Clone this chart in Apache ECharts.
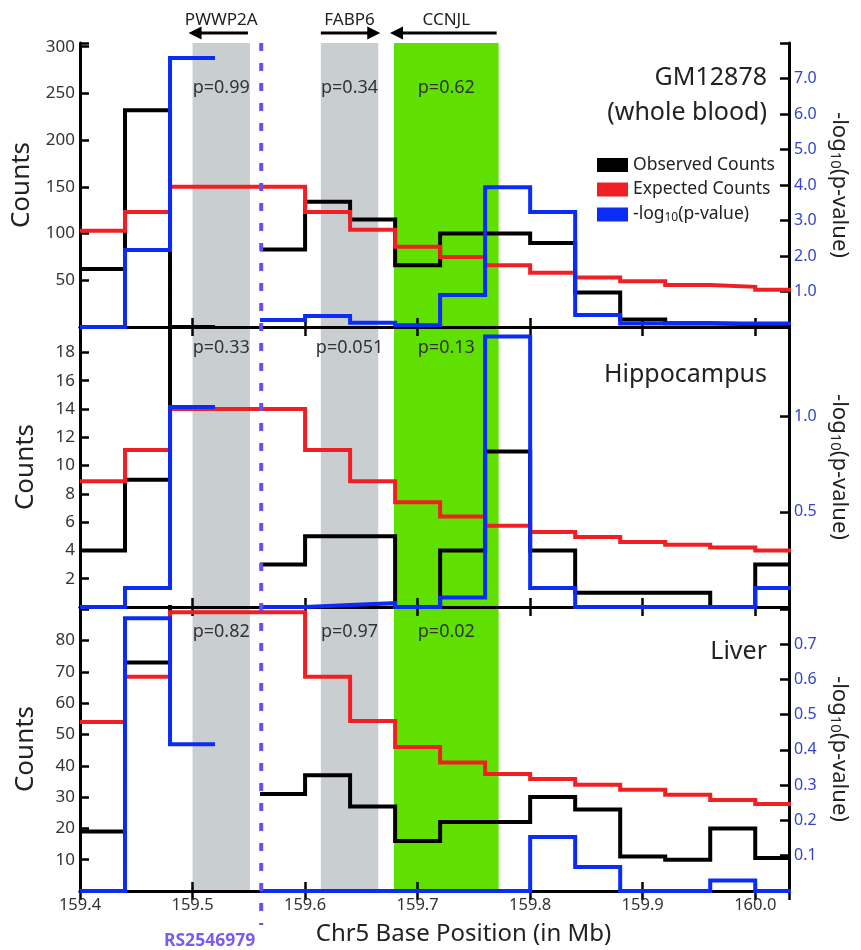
<!DOCTYPE html>
<html><head><meta charset="utf-8">
<script src="https://cdn.jsdelivr.net/npm/echarts@6/dist/echarts.min.js"></script>
<style>html,body{margin:0;padding:0;background:#fff;}#c{width:861px;height:950px;}</style>
</head><body><div id="c"></div>
<script>
// ---------- DATA ----------
const binEdges = [159.40,159.44,159.48,159.52,159.56,159.60,159.64,159.68,159.72,159.76,159.80,159.84,159.88,159.92,159.96,160.00,160.04];

const observedGM    = [62, 232, 0, null, 83, 134, 115, 66, 100, 100, 90, 37, 8, 4, 3, 2];
const expectedGM    = [103, 123, 150, 150, 150, 123, 104, 86, 75, 66, 58, 53, 49, 45, 43, 40];
const pvalueGM      = [0, 2.17, 7.58, null, 0.2, 0.31, 0.12, 0.05, 0.9, 3.94, 3.24, 0.34, 0.1, 0.1, 0.1, 0.1];

const observedHippo = [4, 9, 25, null, 3, 5, 5, 0, 4, 11, 4, 1, 1, 1, 0, 3];
const expectedHippo = [8.9, 11.1, 14.0, 14.0, 14.0, 11.1, 8.9, 7.4, 6.4, 5.75, 5.3, 4.95, 4.6, 4.4, 4.2, 4.0];
const pvalueHippo   = [0, 0.1, 1.05, null, 0, 0.01, 0.02, 0, 0.05, 1.42, 0.1, 0, 0, 0, 0, 0.1];

const observedLiver = [19, 73, 95, null, 31, 37, 27, 16, 22, 22, 30, 26, 11, 10, 20, 10.5];
const expectedLiver = [54, 68.4, 89, 89, 89, 68.4, 54.3, 46, 41, 37.4, 35.8, 33.9, 32.3, 30.7, 29.1, 27.8];
const pvalueLiver   = [0, 0.773, 0.416, null, 0, 0, 0, 0, 0, 0, 0.153, 0.068, 0, 0, 0.03, 0];

const countTickLabels = [[50, 100, 150, 200, 250, 300], [2, 4, 6, 8, 10, 12, 14, 16, 18], [10, 20, 30, 40, 50, 60, 70, 80]];
const pvalTickLabels  = [[1, 2, 3, 4, 5, 6, 7], [0.5, 1.0], [0.1, 0.2, 0.3, 0.4, 0.5, 0.6, 0.7]];
const xTickLabels     = [159.4, 159.5, 159.6, 159.7, 159.8, 159.9, 160.0];

const panelTitles = [['GM12878', '(whole blood)'], ['Hippocampus'], ['Liver']];
const geneNames  = ['PWWP2A', 'FABP6', 'CCNJL'];
const geneStart  = [159.500, 159.614, 159.679];
const geneEnd    = [159.551, 159.665, 159.772];
const geneStrand = [-1, 1, -1];
const genePvalsGM    = ['p=0.99', 'p=0.34', 'p=0.62'];
const genePvalsHippo = ['p=0.33', 'p=0.051', 'p=0.13'];
const genePvalsLiver = ['p=0.82', 'p=0.97', 'p=0.02'];
const snpPos  = 159.561;
const snpName = 'RS2546979';

const xMin = 159.4, xMax = 160.03, xInterval = 0.1;
const countMax = [304, 19.8, 90.7];
const countInterval = [50, 2, 10];
const pvalMax = [8.0, 1.47, 0.805];
const pvalInterval = [1, 0.5, 0.1];

// ---------- STYLE / LAYOUT ----------
const FONT = '"Noto Sans", "Open Sans", sans-serif';
const C_OBS = '#000000', C_EXP = '#ee2024', C_P = '#0b2cf5';
const geneColors = ['#c9cfd1', '#c9cfd1', '#5fe000'];
const gridLeft = 80, gridWidth = 709;
const gridTops = [43, 327, 607], gridHeights = [284, 280, 284];
const titleOffsets = [[35, 70], [48], [45]];
const pLabelDistance = [36, 12, 16];

const panels = [
  {obs: observedGM, exp: expectedGM, pv: pvalueGM, plab: genePvalsGM},
  {obs: observedHippo, exp: expectedHippo, pv: pvalueHippo, plab: genePvalsHippo},
  {obs: observedLiver, exp: expectedLiver, pv: pvalueLiver, plab: genePvalsLiver}
];

function stepPoints(vals) {
  const pts = [];
  for (let i = 0; i < vals.length; i++) {
    if (vals[i] == null) { pts.push([binEdges[i], '-']); continue; }
    pts.push([binEdges[i], vals[i]]);
    pts.push([binEdges[i + 1], vals[i]]);
  }
  return pts;
}
const inList = (v, list) => list.some(t => Math.abs(t - v) < 1e-6);

const grid = [], xAxis = [], yAxis = [], series = [];
const axisLine = {show: true, lineStyle: {color: '#000', width: 3}};
const axisTick = {show: true, inside: true, length: 9, lineStyle: {color: '#000', width: 2.5}};

for (let p = 0; p < 3; p++) {
  grid.push({left: gridLeft, top: gridTops[p], width: gridWidth, height: gridHeights[p], containLabel: false});
}
for (let p = 0; p < 3; p++) {
  xAxis.push({
    type: 'value', gridIndex: p, position: 'bottom', min: xMin, max: xMax, interval: xInterval, z: 3,
    axisLine, axisTick, splitLine: {show: false},
    axisLabel: {show: p === 2, margin: 6, color: '#333', fontSize: 16.5, fontFamily: FONT,
      formatter: v => inList(v, xTickLabels) ? v.toFixed(1) : ''},
    name: p === 2 ? 'Chr5 Base Position (in Mb)' : '', nameLocation: 'middle', nameGap: 31,
    nameTextStyle: {fontSize: 24, color: '#222', fontFamily: FONT, padding: [0, 0, 0, 58]}
  });
}
for (let p = 0; p < 3; p++) {
  xAxis.push({
    type: 'value', gridIndex: p, position: 'top', min: xMin, max: xMax, interval: xInterval, z: 3,
    axisLine, axisTick, splitLine: {show: false}, axisLabel: {show: false}
  });
}
for (let p = 0; p < 3; p++) {
  yAxis.push({
    type: 'value', gridIndex: p, position: 'left', min: 0, max: countMax[p], interval: countInterval[p], z: 3,
    axisLine, axisTick, splitLine: {show: false},
    axisLabel: {margin: 5, color: '#333', fontSize: 17, fontFamily: FONT,
      formatter: v => inList(v, countTickLabels[p]) ? String(Math.round(v)) : ''},
    name: 'Counts', nameLocation: 'middle', nameRotate: 90, nameGap: 41,
    nameTextStyle: {fontSize: 26, color: '#222', fontFamily: FONT}
  });
}
for (let p = 0; p < 3; p++) {
  yAxis.push({
    type: 'value', gridIndex: p, position: 'right', min: 0, max: pvalMax[p], interval: pvalInterval[p], z: 3,
    axisLine, axisTick, splitLine: {show: false},
    axisLabel: {margin: 5, color: '#3344cc', fontSize: 16, fontFamily: FONT,
      formatter: v => inList(v, pvalTickLabels[p]) ? v.toFixed(1) : ''},
    name: '-log{sub|10}(p-value)', nameLocation: 'middle', nameRotate: -90, nameGap: 33,
    nameTextStyle: {fontSize: 22, color: '#222', fontFamily: FONT,
      rich: {sub: {fontSize: 15, fontFamily: FONT, color: '#222', padding: [9, 0, 0, 0]}}}
  });
}

for (let p = 0; p < 3; p++) {
  const P = panels[p];
  series.push({
    type: 'line', name: 'genes' + p, xAxisIndex: p, yAxisIndex: p, data: [], z: 0, silent: true,
    markArea: {
      silent: true,
      label: {show: true, position: 'insideTop', distance: pLabelDistance[p], color: '#333', fontSize: 18, fontFamily: FONT},
      data: geneNames.map((g, i) => [
        {xAxis: geneStart[i], name: P.plab[i], itemStyle: {color: geneColors[i], opacity: 1}},
        {xAxis: geneEnd[i]}
      ])
    }
  });
  const common = {type: 'line', xAxisIndex: p, symbol: 'none', silent: true, connectNulls: false, clip: true};
  series.push(Object.assign({}, common, {name: 'Observed Counts', yAxisIndex: p, z: 5, color: C_OBS,
    lineStyle: {color: C_OBS, width: 4, join: 'miter'}, data: stepPoints(P.obs)}));
  series.push(Object.assign({}, common, {name: 'Expected Counts', yAxisIndex: p, z: 6, color: C_EXP,
    lineStyle: {color: C_EXP, width: 4, join: 'miter'}, data: stepPoints(P.exp)}));
  series.push(Object.assign({}, common, {name: '-log10(p-value)', yAxisIndex: p + 3, z: 7, color: C_P,
    lineStyle: {color: C_P, width: 4, join: 'miter'}, data: stepPoints(P.pv)}));
}

const option = {
  animation: false,
  backgroundColor: '#fff',
  grid, xAxis, yAxis, series,
  legend: {
    data: ['Observed Counts', 'Expected Counts', '-log10(p-value)'],
    orient: 'vertical', left: 597, top: 156, itemWidth: 31, itemHeight: 14, itemGap: 6.5,
    icon: 'rect', selectedMode: false, padding: 0,
    textStyle: {fontSize: 17.5, lineHeight: 17, color: '#222', fontFamily: FONT,
      rich: {sub: {fontSize: 12, lineHeight: 12, color: '#222', fontFamily: FONT, padding: [7, 0, 0, 0]}}},
    formatter: n => n === '-log10(p-value)' ? '-log{sub|10}(p-value)' : n
  }
};

const chart = echarts.init(document.getElementById('c'));
chart.setOption(option);

// ---------- annotations positioned through the library's scales ----------
const px = v => chart.convertToPixel({xAxisIndex: 0}, v);
const topY = chart.convertToPixel({yAxisIndex: 0}, countMax[0]);
const bottomY = chart.convertToPixel({yAxisIndex: 2}, 0);
const graphic = [];
geneNames.forEach((g, i) => {
  const x1 = px(geneStart[i]), x2 = px(geneEnd[i]);
  const ay = topY - 10;
  graphic.push({type: 'text', x: (x1 + x2) / 2, y: topY - 23,
    style: {text: g, fill: '#222', fontSize: 17, fontFamily: FONT, align: 'center', verticalAlign: 'middle'}});
  const tip = geneStrand[i] < 0 ? x1 - 4 : x2 + 2;
  const tail = geneStrand[i] < 0 ? x2 - 2 : x1;
  const dir = geneStrand[i] < 0 ? 1 : -1;
  graphic.push({type: 'line', shape: {x1: tail, y1: ay, x2: tip + dir * 8, y2: ay}, style: {stroke: '#000', lineWidth: 3}});
  graphic.push({type: 'polygon', shape: {points: [[tip, ay], [tip + dir * 13, ay - 6.5], [tip + dir * 13, ay + 6.5]]}, style: {fill: '#000'}});
});
const sx = px(snpPos);
graphic.push({type: 'line', z: 50, shape: {x1: sx, y1: topY, x2: sx, y2: bottomY + 34},
  style: {stroke: '#6b4df0', lineWidth: 4, lineDash: [8, 12]}});
graphic.push({type: 'text', x: sx - 6, y: bottomY + 50,
  style: {text: snpName, fill: '#7a5cf0', fontSize: 17.5, fontWeight: 'bold', fontFamily: FONT, align: 'right', verticalAlign: 'middle'}});
const rightX = gridLeft + gridWidth - 22;
panelTitles.forEach((lines, p) => {
  lines.forEach((t, k) => {
    graphic.push({type: 'text', x: rightX, y: gridTops[p] + titleOffsets[p][k],
      style: {text: t, fill: '#222', fontSize: 25, fontFamily: FONT, align: 'right', verticalAlign: 'middle'}});
  });
});
chart.setOption({graphic});
</script>
</body></html>
